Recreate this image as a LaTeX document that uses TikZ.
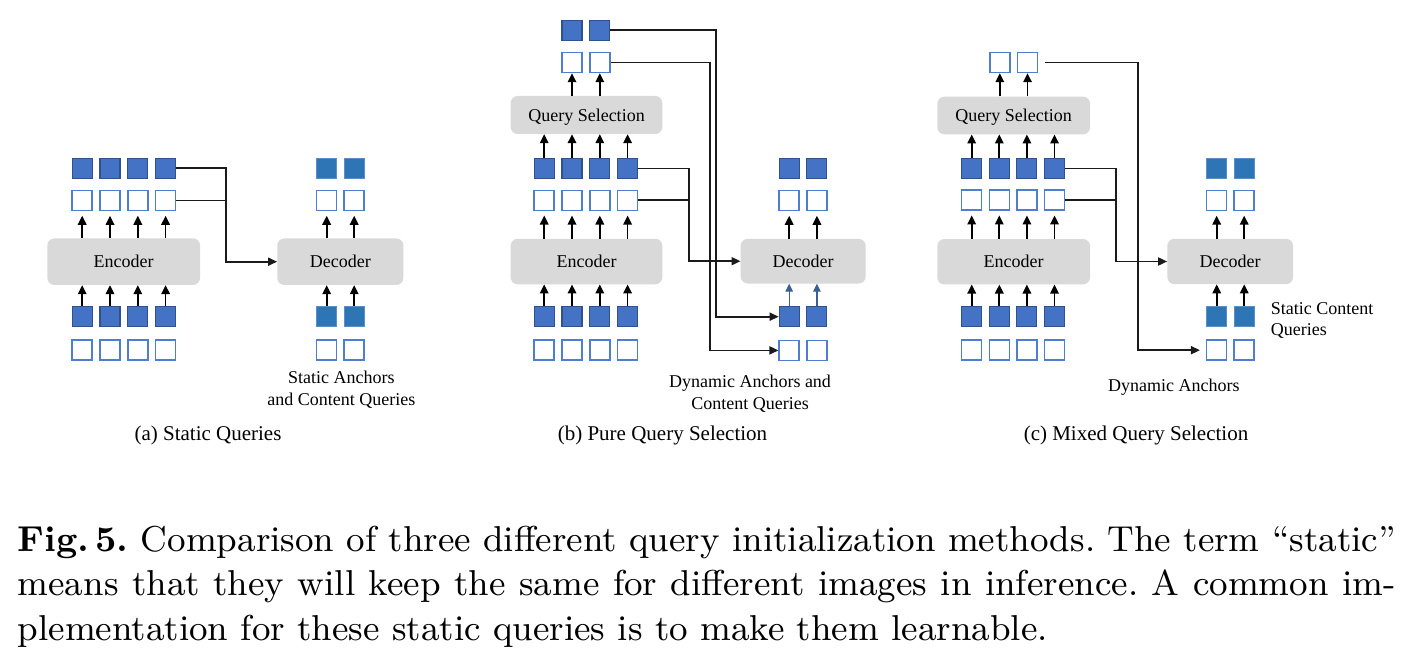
\documentclass[tikz,border=0pt]{standalone}
\usepackage{fontspec}
\newfontfamily\tnr{Liberation Serif}
\usetikzlibrary{arrows.meta}
\definecolor{encblue}{HTML}{4472C4}
\definecolor{encedge}{HTML}{2F528F}
\definecolor{decblue}{HTML}{2E75B6}
\definecolor{decedge}{HTML}{5B8FC7}
\definecolor{oedge}{HTML}{4F7ED0}
\definecolor{boxgray}{HTML}{D9D9D9}
\definecolor{darrow}{HTML}{3B5F95}
\definecolor{connc}{HTML}{1A1A1A}
\newcommand{\capline}[1]{\scalebox{4.0}{\fontsize{9pt}{11pt}\selectfont\frenchspacing #1}}
\begin{document}
\begin{tikzpicture}[x=1pt,y=-1pt,
  sq/.style={minimum size=20pt, inner sep=0pt},
  fsq/.style={sq, fill=encblue, draw=encedge, line width=1.1pt},
  dsq/.style={sq, fill=decblue, draw=decedge, line width=0.8pt},
  osq/.style={sq, fill=white, draw=oedge, line width=1.5pt},
  blk/.style={fill=boxgray, rounded corners=7pt, inner sep=0pt, text height=12.3pt, text depth=0pt,
    font=\tnr\fontsize{18pt}{21.7pt}\selectfont},
  lbl/.style={inner sep=0pt, font=\tnr\fontsize{18pt}{21.7pt}\selectfont},
  plbl/.style={inner sep=0pt, font=\tnr\fontsize{21pt}{25pt}\selectfont},
  varr/.style={-{Triangle[length=9pt,width=8.5pt]}, line width=1.7pt, draw=black},
  barr/.style={-{Triangle[length=8pt,width=7.5pt]}, line width=1.3pt, draw=darrow, fill=darrow},
  conn/.style={line width=1.7pt, draw=connc},
  carr/.style={conn, -{Triangle[length=9pt,width=8pt]}},
  captxt/.style={inner sep=0pt, anchor=base west}
]
\fill[white] (0,0) rectangle (1420,655);
\useasboundingbox (0,0) rectangle (1420,655);

%%%%%%%%%%%%%%%% Panel (a)
\node[blk, minimum width=152.7pt, minimum height=46.5pt] (a-enc) at (123.7,261.7) {Encoder};
\node[blk, minimum width=126pt, minimum height=46.5pt] (a-dec) at (340.3,261.7) {Decoder};
\foreach \i in {1,...,4}{
  \pgfmathsetmacro\xx{82.2+27.8*(\i-1)}
  \node[fsq] (a-f\i) at (\xx,168.2) {};
  \node[osq] (a-o\i) at (\xx,200.5) {};
  \node[fsq] (a-bf\i) at (\xx,316.5) {};
  \node[osq] (a-bo\i) at (\xx,350.2) {};
  \draw[varr, shorten >=4.5pt] (a-enc.north -| a-o\i) -- (a-o\i.south);
  \draw[varr] (a-bf\i.north) -- (a-bf\i |- a-enc.south);
}
\foreach \i/\xx in {1/326.7,2/354.2}{
  \node[dsq] (a-df\i) at (\xx,168.2) {};
  \node[osq] (a-do\i) at (\xx,200.5) {};
  \node[dsq] (a-dbf\i) at (\xx,316.5) {};
  \node[osq] (a-dbo\i) at (\xx,350.2) {};
  \draw[varr, shorten >=4.5pt] (a-dec.north -| a-do\i) -- (a-do\i.south);
  \draw[varr] (a-dbf\i.north) -- (a-dbf\i |- a-dec.south);
}
\coordinate (a-j) at (226,261.7);
\draw[carr] (a-f4.east) -| (a-j) -- (a-dec.west);
\draw[conn] (a-o4.east) -| (a-j);
\node[lbl, anchor=base] (a-l1) at (341.3,383.3) {Static Anchors};
\node[lbl, anchor=base] (a-l2) at (341.3,405) {and Content Queries};
\node[plbl, anchor=base] (a-cap) at (208,440) {(a) Static Queries};

%%%%%%%%%%%%%%%% Panel (b)
\node[blk, minimum width=151.6pt, minimum height=38pt] (b-qs) at (586.5,115) {Query Selection};
\node[blk, minimum width=151.6pt, minimum height=45.5pt] (b-enc) at (586.5,261.5) {Encoder};
\node[blk, minimum width=125pt, minimum height=44.6pt] (b-dec) at (803.2,261.2) {Decoder};
\foreach \i in {1,...,4}{
  \pgfmathsetmacro\xx{544.2+27.8*(\i-1)}
  \node[fsq] (b-f\i) at (\xx,168.5) {};
  \node[osq] (b-o\i) at (\xx,200.3) {};
  \node[fsq] (b-bf\i) at (\xx,316.5) {};
  \node[osq] (b-bo\i) at (\xx,350.2) {};
  \draw[varr, shorten >=4.5pt] (b-enc.north -| b-o\i) -- (b-o\i.south);
  \draw[varr] (b-bf\i.north) -- (b-bf\i |- b-enc.south);
  \draw[varr] (b-f\i.north) -- (b-f\i |- b-qs.south);
}
\foreach \i/\xx in {2/572,3/599.8}{
  \node[fsq] (b-tf\i) at (\xx,30.2) {};
  \node[osq] (b-to\i) at (\xx,62.5) {};
  \draw[varr] (b-qs.north -| b-to\i) -- (b-to\i.south);
}
\foreach \i/\xx in {1/789.2,2/816.9}{
  \node[fsq] (b-df\i) at (\xx,168.2) {};
  \node[osq] (b-do\i) at (\xx,200.5) {};
  \node[fsq] (b-dbf\i) at (\xx,316.7) {};
  \node[osq] (b-dbo\i) at (\xx,350.4) {};
  \draw[varr, shorten >=4.5pt] (b-dec.north -| b-do\i) -- (b-do\i.south);
  \draw[barr] (b-dbf\i.north) -- (b-dbf\i |- b-dec.south);
}
\coordinate (b-j) at (689.3,261.2);
\draw[carr] (b-f4.east) -| (b-j) -- (b-dec.west);
\draw[conn] (b-o4.east) -| (b-j);
\coordinate (b-k1) at (715.7,316.7);
\coordinate (b-k2) at (710,350.4);
\draw[carr] (b-tf3.east) -| (b-k1) -- (b-dbf1.west);
\draw[carr] (b-to3.east) -| (b-k2) -- (b-dbo1.west);
\node[lbl, anchor=base] (b-l1) at (750,387.3) {Dynamic Anchors and};
\node[lbl, anchor=base] (b-l2) at (750,409.3) {Content Queries};
\node[plbl, anchor=base] (b-cap) at (662.5,440) {(b) Pure Query Selection};

%%%%%%%%%%%%%%%% Panel (c)
\node[blk, minimum width=152.7pt, minimum height=37.6pt] (c-qs) at (1013.7,115.5) {Query Selection};
\node[blk, minimum width=152.7pt, minimum height=45.3pt] (c-enc) at (1013.7,261.7) {Encoder};
\node[blk, minimum width=125.7pt, minimum height=45.3pt] (c-dec) at (1230.2,261.5) {Decoder};
\foreach \i in {1,...,4}{
  \pgfmathsetmacro\xx{971.7+27.6*(\i-1)}
  \node[fsq] (c-f\i) at (\xx,168.5) {};
  \node[osq] (c-o\i) at (\xx,200.2) {};
  \node[fsq] (c-bf\i) at (\xx,316.5) {};
  \node[osq] (c-bo\i) at (\xx,350.2) {};
  \draw[varr, shorten >=4.5pt] (c-enc.north -| c-o\i) -- (c-o\i.south);
  \draw[varr] (c-bf\i.north) -- (c-bf\i |- c-enc.south);
  \draw[varr] (c-f\i.north) -- (c-f\i |- c-qs.south);
}
\foreach \i/\xx in {2/999.8,3/1027.5}{
  \node[osq] (c-to\i) at (\xx,62.5) {};
  \draw[varr] (c-qs.north -| c-to\i) -- (c-to\i.south);
}
\foreach \i/\xx in {1/1216.7,2/1244.2}{
  \node[dsq] (c-df\i) at (\xx,168.2) {};
  \node[osq] (c-do\i) at (\xx,200.4) {};
  \node[dsq] (c-dbf\i) at (\xx,316.5) {};
  \node[osq] (c-dbo\i) at (\xx,350.2) {};
  \draw[varr, shorten >=4.5pt] (c-dec.north -| c-do\i) -- (c-do\i.south);
  \draw[varr] (c-dbf\i.north) -- (c-dbf\i |- c-dec.south);
}
\coordinate (c-j) at (1116,261.5);
\draw[carr] (c-f4.east) -| (c-j) -- (c-dec.west);
\draw[conn] (c-o4.east) -| (c-j);
\coordinate (c-k) at (1137.7,350.2);
\draw[carr, shorten >=6pt] ([xshift=7pt]c-to3.east) -| (c-k) -- (c-dbo1.west);
\node[lbl, anchor=base west] (c-l1) at (1270.7,314) {Static Content};
\node[lbl, anchor=base west] (c-l2) at (1270.7,335.7) {Queries};
\node[lbl, anchor=base] (c-l3) at (1173.8,391) {Dynamic Anchors};
\node[plbl, anchor=base] (c-cap) at (1136,440) {(c) Mixed Query Selection};

%%%%%%%%%%%%%%%% Caption
\node[captxt] (cap1) at (17.5,551) {\capline{\makebox[344.5pt][s]{\textbf{Fig.\,5.} Comparison of three different query initialization methods. The term “static”}}};
\node[captxt] (cap2) at (17.5,595.5) {\capline{\makebox[344.5pt][s]{means that they will keep the same for different images in inference. A common im-}}};
\node[captxt] (cap3) at (17.5,640) {\capline{plementation for these static queries is to make them learnable.}};
\end{tikzpicture}
\end{document}
